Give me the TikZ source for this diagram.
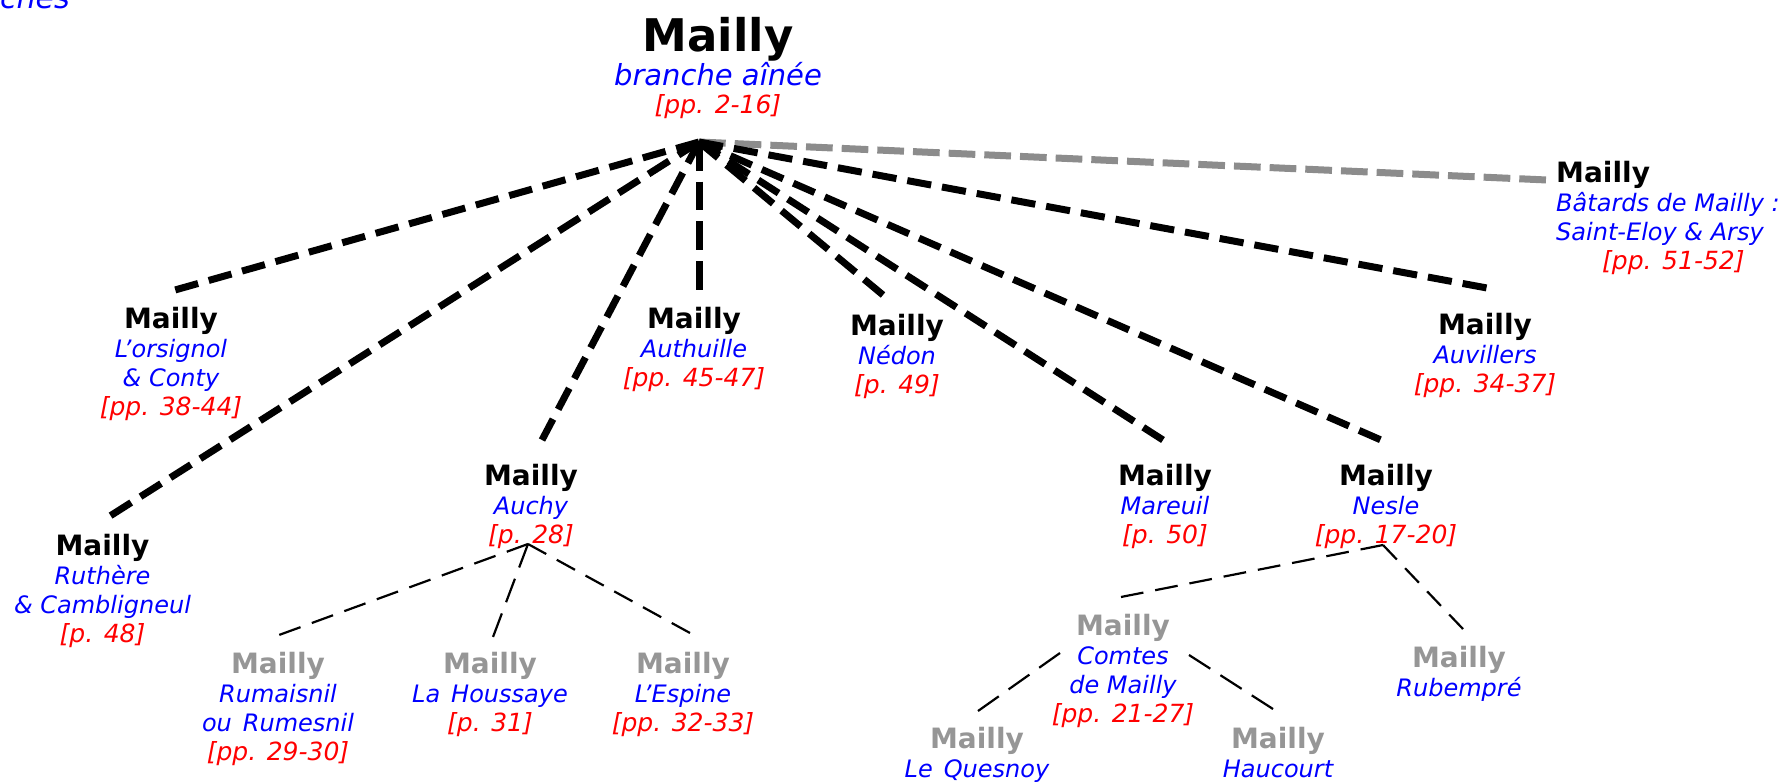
\documentclass[tikz,border=0pt]{standalone}
\usepackage{fontspec}
\setmainfont{DejaVu Sans}
\definecolor{mblue}{RGB}{0,0,255}
\definecolor{mred}{RGB}{255,0,0}
\definecolor{mgrayt}{RGB}{150,150,150}
\definecolor{mgrayl}{RGB}{140,140,140}
\newcommand\MName[1]{{\fontsize{28}{29}\selectfont\bfseries\color{#1}Mailly}}
\newcommand\MSub[1]{{\color{mblue}\itshape #1}}
\newcommand\MPage[1]{{\fontsize{25}{29}\selectfont\color{mred}\itshape #1}}
\tikzset{
  branch/.style={align=center, inner sep=0pt, anchor=north,
    font={\fontsize{24}{29}\selectfont\lineskiplimit=-100pt}},
  thickdash/.style={line width=7pt, dash pattern=on #1pt off 11pt},
  graydash/.style={line width=7pt, draw=mgrayl, dash pattern=on #1pt off 9pt},
  thindash/.style={line width=2.2pt, dash pattern=on #1pt off 12pt},
}
\begin{document}
\begin{tikzpicture}[x=1pt,y=-1pt]
\useasboundingbox (0,0) rectangle (1781,784);
\node[inner sep=0pt, anchor=base east, font=\fontsize{30}{30}\selectfont\itshape, text=mblue] (ches) at (70,9) {ches};
% root
\node[branch, font={\fontsize{25}{28}\selectfont\lineskiplimit=-100pt}] (root) at (718,16.8)
  {{\fontsize{45}{28}\selectfont\bfseries Mailly}\\[6pt]{\fontsize{29}{28}\selectfont\color{mblue}\itshape branche aînée}\\{\color{mred}\itshape [pp. 2-16]}};
% first level
\node[branch] (lor) at (171,306.7) {\MName{black}\\\MSub{L’orsignol}\\\MSub{\& Conty}\\\MPage{[pp. 38-44]}};
\node[branch] (ruth) at (102.5,533.7) {\MName{black}\\\MSub{Ruthère}\\\MSub{\& Cambligneul}\\\MPage{[p. 48]}};
\node[branch] (auchy) at (531,463.7) {\MName{black}\\\MSub{Auchy}\\\MPage{[p. 28]}};
\node[branch] (auth) at (694,306.7) {\MName{black}\\\MSub{Authuille}\\\MPage{[pp. 45-47]}};
\node[branch] (nedon) at (897,313.7) {\MName{black}\\\MSub{Nédon}\\\MPage{[p. 49]}};
\node[branch] (mar) at (1165,463.7) {\MName{black}\\\MSub{Mareuil}\\\MPage{[p. 50]}};
\node[branch] (nesle) at (1386,463.7) {\MName{black}\\\MSub{Nesle}\\\MPage{[pp. 17-20]}};
\node[branch] (auv) at (1485,312.7) {\MName{black}\\\MSub{Auvillers}\\\MPage{[pp. 34-37]}};
\node[branch, align=left, anchor=north west] (bat) at (1556,160.7) {\MName{black}\\\MSub{Bâtards de Mailly :}\\\MSub{Saint-Eloy \& Arsy}\\\hspace*{46pt}\MPage{[pp. 51-52]}};
% second level
\node[branch] (rum) at (278,651.7) {\MName{mgrayt}\\\MSub{Rumaisnil}\\\MSub{ou\hspace{11pt}Rumesnil}\\\MPage{[pp. 29-30]}};
\node[branch] (hous) at (490,651.7) {\MName{mgrayt}\\\MSub{La\hspace{11pt}Houssaye}\\\MPage{[p. 31]}};
\node[branch] (esp) at (683,651.7) {\MName{mgrayt}\\\MSub{L’Espine}\\\MPage{[pp. 32-33]}};
\node[branch] (comtes) at (1123,613.7) {\MName{mgrayt}\\\MSub{Comtes}\\\MSub{de Mailly}\\\MPage{[pp. 21-27]}};
\node[branch] (rub) at (1459,645.7) {\MName{mgrayt}\\\MSub{Rubempré}};
\node[branch] (ques) at (977,726.7) {\MName{mgrayt}\\\MSub{Le\hspace{11pt}Quesnoy}};
\node[branch] (hauc) at (1278,726.7) {\MName{mgrayt}\\\MSub{Haucourt}};
% hubs
\coordinate (hub) at ([shift={(-19,125.2)}]root.north);
\coordinate (auchyhub) at ([shift={(-3,80.3)}]auchy.north);
\coordinate (neslehub) at ([shift={(-3,81.3)}]nesle.north);
% thick connectors
\draw[graydash=26.7] (hub) -- ([shift={(-9,19.3)}]bat.north west);
\draw[thickdash=23.7] (hub) -- ([shift={(4,-16.7)}]lor.north);
\draw[thickdash=24.4] (hub) -- ([shift={(7.5,-17.7)}]ruth.north);
\draw[thickdash=23.8] (hub) -- ([shift={(11,-23.7)}]auchy.north);
\draw[thickdash=28.7] (hub) -- ([shift={(5,-16.7)}]auth.north);
\draw[thickdash=24.8] (hub) -- ([shift={(-14,-18.7)}]nedon.north);
\draw[thickdash=24.2] (hub) -- ([shift={(-2,-23.7)}]mar.north);
\draw[thickdash=23.3] (hub) -- ([shift={(-5,-23.7)}]nesle.north);
\draw[thickdash=24.3] (hub) -- ([shift={(2,-24.7)}]auv.north);
% thin connectors
\draw[thindash=22.6] (auchyhub) -- ([shift={(1,-16.7)}]rum.north);
\draw[thindash=25.1] (auchyhub) -- ([shift={(3,-14.7)}]hous.north);
\draw[thindash=20.8] (auchyhub) -- ([shift={(7,-18.7)}]esp.north);
\draw[thindash=22.9] (neslehub) -- ([shift={(-2,-16.7)}]comtes.north);
\draw[thindash=20] (neslehub) -- ([shift={(4,-16.7)}]rub.north);
\draw[thindash=25.5] ([shift={(-63,39.3)}]comtes.north) -- ([shift={(1,-15.7)}]ques.north);
\draw[thindash=25.3] ([shift={(66,41.3)}]comtes.north) -- ([shift={(-5,-17.7)}]hauc.north);
\end{tikzpicture}
\end{document}
